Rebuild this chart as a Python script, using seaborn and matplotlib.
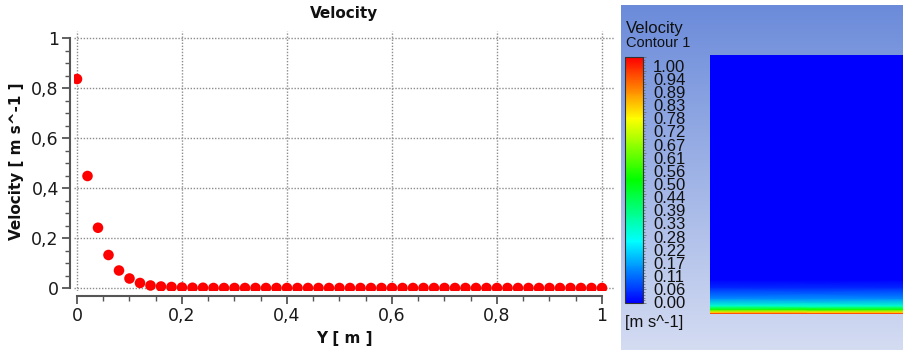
import numpy as np
import pandas as pd
import matplotlib
matplotlib.use("Agg")
import matplotlib.pyplot as plt
import seaborn as sns
from matplotlib.colors import LinearSegmentedColormap, Normalize, to_rgb
from matplotlib.ticker import MultipleLocator, FuncFormatter
import matplotlib.cm as cm

# ---------------- data ----------------
y_position = [0.00, 0.02, 0.04, 0.06, 0.08, 0.10, 0.12, 0.14, 0.16, 0.18,
              0.20, 0.22, 0.24, 0.26, 0.28, 0.30, 0.32, 0.34, 0.36, 0.38,
              0.40, 0.42, 0.44, 0.46, 0.48, 0.50, 0.52, 0.54, 0.56, 0.58,
              0.60, 0.62, 0.64, 0.66, 0.68, 0.70, 0.72, 0.74, 0.76, 0.78,
              0.80, 0.82, 0.84, 0.86, 0.88, 0.90, 0.92, 0.94, 0.96, 0.98,
              1.00]
velocity = [0.836, 0.448, 0.241, 0.132, 0.070, 0.038, 0.020, 0.010, 0.006, 0.004,
            0.002, 0.001, 0.001, 0.0, 0.0, 0.0, 0.0, 0.0, 0.0, 0.0,
            0.0, 0.0, 0.0, 0.0, 0.0, 0.0, 0.0, 0.0, 0.0, 0.0,
            0.0, 0.0, 0.0, 0.0, 0.0, 0.0, 0.0, 0.0, 0.0, 0.0,
            0.0, 0.0, 0.0, 0.0, 0.0, 0.0, 0.0, 0.0, 0.0, 0.0,
            0.0]
colorbar_labels = ["1.00", "0.94", "0.89", "0.83", "0.78", "0.72", "0.67", "0.61",
                   "0.56", "0.50", "0.44", "0.39", "0.33", "0.28", "0.22", "0.17",
                   "0.11", "0.06", "0.00"]
# contour field: velocity vs. fraction of height above the moving wall
contour_height = [0.0, 0.006, 0.016, 0.030, 0.058, 0.10, 0.13, 1.0]
contour_velocity = [0.95, 0.78, 0.52, 0.30, 0.14, 0.04, 0.0, 0.0]

df = pd.DataFrame({"Y": y_position, "Velocity": velocity})

W, H = 904, 350


def box(x0, y0, x1, y1):
    return [x0 / W, 1 - y1 / H, (x1 - x0) / W, (y1 - y0) / H]


sns.set_style("white")
plt.rcParams["font.family"] = ["DejaVu Sans"]

fig = plt.figure(figsize=(W / 100, H / 100), dpi=100)

# ---------------- left: scatter plot ----------------
ax = fig.add_axes(box(74, 30.5, 615, 291))
sns.scatterplot(data=df, x="Y", y="Velocity", ax=ax, color="#ff0000",
                s=58, edgecolor="none", zorder=3, legend=False)
ax.set_xlim(-0.0057, 1.0248)
ax.set_ylim(-0.012, 1.03)
ax.xaxis.set_major_locator(MultipleLocator(0.2))
ax.xaxis.set_minor_locator(MultipleLocator(0.05))
ax.yaxis.set_major_locator(MultipleLocator(0.2))
ax.yaxis.set_minor_locator(MultipleLocator(0.05))
fmt = FuncFormatter(lambda v, p: f"{v:g}".replace(".", ","))
ax.xaxis.set_major_formatter(fmt)
ax.yaxis.set_major_formatter(fmt)
ax.grid(True, which="major", color="#8c8c8c", linestyle=(0, (1, 1.2)), linewidth=1.0)
for s in ["top", "right"]:
    ax.spines[s].set_visible(False)
ax.spines["left"].set_position(("outward", 2.9))
ax.spines["bottom"].set_position(("outward", 3.6))
ax.spines["left"].set_bounds(0, 1)
ax.spines["bottom"].set_bounds(0, 1)
for s in ["left", "bottom"]:
    ax.spines[s].set_color("#555555")
    ax.spines[s].set_linewidth(1.5)
ax.tick_params(which="major", direction="out", length=6, width=1.3, color="#555555",
               labelsize=12.5, labelcolor="#1a1a1a", pad=2, left=True, bottom=True)
ax.tick_params(which="minor", direction="out", length=3.5, width=1.0, color="#555555",
               left=True, bottom=True)
ax.set_title("Velocity", fontsize=11, fontweight="bold", pad=9, color="#111111")
ax.set_xlabel("Y [ m ]", fontsize=11, fontweight="bold", labelpad=4, color="#111111")
ax.set_ylabel("Velocity [ m s^-1 ]", fontsize=11, fontweight="bold", labelpad=5,
              color="#111111")

# ---------------- right: contour panel ----------------
bg = fig.add_axes(box(621, 5, 904, 350))
top_c = np.array(to_rgb("#6b8bda"))
bot_c = np.array(to_rgb("#d4dcf2"))
t = np.linspace(0, 1, 256)[:, None]
grad = top_c[None, None, :] * (1 - t[:, :, None]) + bot_c[None, None, :] * t[:, :, None]
bg.imshow(grad, aspect="auto", extent=[0, 1, 0, 1])
bg.set_axis_off()

ansys = LinearSegmentedColormap.from_list(
    "ansys_rainbow", ["#0000ff", "#00ffff", "#00ff00", "#ffff00", "#ff0000"])
norm = Normalize(0, 1)

cax_field = fig.add_axes(box(710, 55, 904, 313.5))
Xg, Yg = np.meshgrid([0.0, 1.0], contour_height)
Cg = np.column_stack([contour_velocity, contour_velocity])
cax_field.pcolormesh(Xg, Yg, Cg, cmap=ansys, norm=norm, shading="gouraud")
cax_field.set_xlim(0, 1)
cax_field.set_ylim(0, 1)
cax_field.set_axis_off()

cbax = fig.add_axes(box(625, 57, 643, 303))
cb = fig.colorbar(cm.ScalarMappable(norm=norm, cmap=ansys), cax=cbax)
cb.outline.set_edgecolor("#333333")
cb.outline.set_linewidth(0.8)
cbax.yaxis.set_major_locator(MultipleLocator(0.0555555))
cbax.yaxis.set_minor_locator(MultipleLocator(0.0111111))
cbax.tick_params(which="both", right=True, labelright=False, length=1.5,
                 width=0.5, color="#666666", direction="out")
cbax.tick_params(which="major", length=2.5)

# stacked colorbar labels as one tightly spaced text block
fig.text(653 / W, 1 - 185.5 / H, "\n".join(colorbar_labels), fontsize=12,
         family="Liberation Sans", color="#111111", va="center", ha="left",
         linespacing=0.845)
fig.text(626 / W, 1 - 28 / H, "Velocity", fontsize=12, family="Liberation Sans",
         color="#111111", va="center", ha="left")
fig.text(626 / W, 1 - 43 / H, "Contour 1", fontsize=10.5, family="Liberation Sans",
         color="#111111", va="center", ha="left")
fig.text(625 / W, 1 - 322 / H, "[m s^-1]", fontsize=12, family="Liberation Sans",
         color="#111111", va="center", ha="left")

fig.savefig("out.png", dpi=100)
